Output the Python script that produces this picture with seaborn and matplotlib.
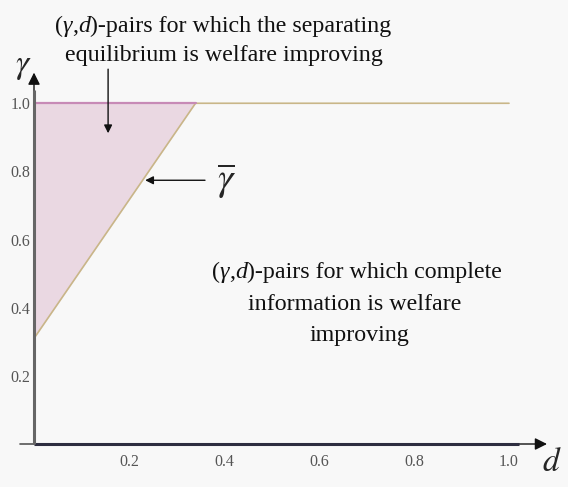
import matplotlib
matplotlib.use("Agg")
import matplotlib.pyplot as plt
import seaborn as sns
import pandas as pd
import numpy as np
from matplotlib.offsetbox import TextArea, HPacker, AnnotationBbox

# data
d_vals = [0.0, 0.34, 1.0]
gamma_bar = [0.31, 1.0, 1.0]
fill_d = [0.0, 0.34]
fill_low = [0.31, 1.0]
x_ticks = [0.2, 0.4, 0.6, 0.8, 1.0]
y_ticks = [0.2, 0.4, 0.6, 0.8, 1.0]
x_tick_labels = ["0.2", "0.4", "0.6", "0.8", "1.0"]
y_tick_labels = ["0.2", "0.4", "0.6", "0.8", "1.0"]

sns.set_style("white")
plt.rcParams['font.family'] = ['Liberation Serif', 'DejaVu Serif']
plt.rcParams['mathtext.fontset'] = 'stix'

bg = "#f8f8f8"
W, H = 568, 487
fig = plt.figure(figsize=(5.68, 4.87), dpi=100, facecolor=bg)
ax = fig.add_axes([34/W, 43/H, 513/W, 368/H])
ax.set_facecolor(bg)

df = pd.DataFrame({"d": d_vals, "g": gamma_bar})
ax.fill_between(fill_d, fill_low, [1.0, 1.0], color="#ead8e2", lw=0)
ax.plot(fill_d, [1.0, 1.0], color="#c78ab6", lw=1.6, zorder=3)
sns.lineplot(data=df, x="d", y="g", ax=ax, color="#c9b688", lw=1.2, zorder=2)

ax.set_xlim(0, 1.08)
ax.set_ylim(0, 1.08)
for s in ax.spines.values():
    s.set_visible(False)

ax.set_xticks(x_ticks)
ax.set_xticklabels(x_tick_labels)
ax.set_yticks(y_ticks)
ax.set_yticklabels(y_tick_labels)
ax.set_xticks(np.arange(0.05, 1.0, 0.05), minor=True)
ax.set_yticks(np.arange(0.05, 1.0, 0.05), minor=True)
ax.tick_params(axis='both', which='major', direction='in', length=6, width=0.8,
               color="#888888", labelsize=11.5, labelcolor="#555555")
ax.tick_params(axis='x', which='major', pad=7)
ax.tick_params(axis='y', which='major', pad=2.5)
ax.tick_params(axis='both', which='minor', direction='in', length=3.5, width=0.7,
               color="#999999")
ax.set_xlabel("")
ax.set_ylabel("")

# axes: thick shafts, black arrow heads
ax.plot([0, 1.02], [0, 0], color="#2e2e40", lw=2.2, clip_on=False, zorder=4,
        solid_capstyle='butt')
ax.annotate("", xy=(1.08, 0), xytext=(1.0, 0), xycoords='data',
            arrowprops=dict(arrowstyle="-|>", color="#111111", lw=1.0,
                            mutation_scale=18, shrinkA=0, shrinkB=0),
            annotation_clip=False)
ax.plot([0, 0], [0, 1.04], color="#666666", lw=2.2, clip_on=False, zorder=4,
        solid_capstyle='butt')
ax.annotate("", xy=(0, 1.09), xytext=(0, 1.0), xycoords='data',
            arrowprops=dict(arrowstyle="-|>", color="#111111", lw=1.0,
                            mutation_scale=18, shrinkA=0, shrinkB=0),
            annotation_clip=False)
ax.plot([-0.03, 0], [0, 0], color="#555555", lw=1.2, clip_on=False)

# axis labels
fig.text(23/W, 1 - 67/H, r"$\gamma$", fontsize=24, ha='center', va='center')
fig.text(552/W, 1 - 463/H, r"$d$", fontsize=24, ha='center', va='center')

FS = 17.3


def rich_line(parts, cx, cy):
    boxes = [TextArea(t, textprops=dict(fontsize=FS, fontstyle=st,
                                        family='Liberation Serif', color="#111111"))
             for t, st in parts]
    pk = HPacker(children=boxes, align='baseline', pad=0, sep=0)
    ab = AnnotationBbox(pk, (cx, H - cy), xycoords='figure pixels', frameon=False,
                        box_alignment=(0.5, 0.5), pad=0)
    fig.add_artist(ab)


pair_prefix = [("(", "normal"), ("γ", "italic"), (",", "normal"), ("d", "italic")]
rich_line(pair_prefix + [(")-pairs for which the separating", "normal")], 223, 26)
rich_line([("equilibrium is welfare improving", "normal")], 224, 56)
rich_line(pair_prefix + [(")-pairs for which complete", "normal")], 357, 272)
rich_line([("information is welfare", "normal")], 355, 305)
rich_line([("improving", "normal")], 359, 336)

ax.annotate("", xy=(0.156, 0.912), xytext=(0.156, 1.10),
            arrowprops=dict(arrowstyle="-|>", color="#111111", lw=1.0,
                            mutation_scale=12, shrinkA=0, shrinkB=0),
            annotation_clip=False)
ax.annotate("", xy=(0.234, 0.774), xytext=(0.36, 0.774),
            arrowprops=dict(arrowstyle="-|>", color="#111111", lw=1.0,
                            mutation_scale=12, shrinkA=0, shrinkB=0))
ax.text(0.405, 0.77, r"$\overline{\gamma}$", fontsize=28, ha='center', va='center')

fig.savefig("out.png", dpi=100, facecolor=bg)
